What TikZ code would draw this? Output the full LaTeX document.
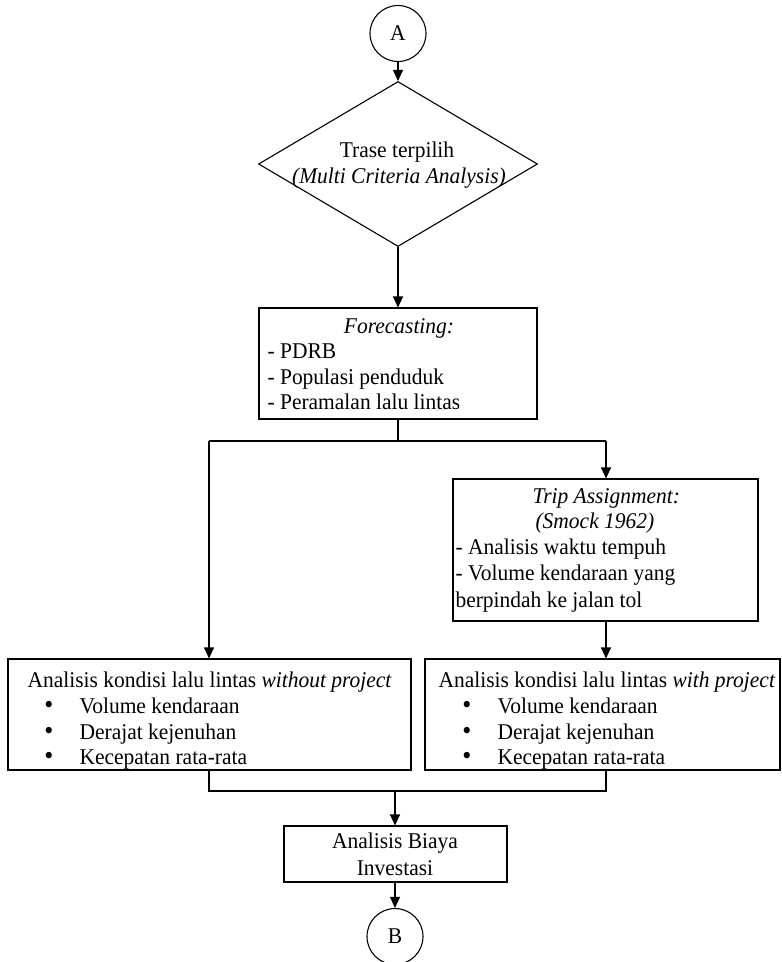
\documentclass[tikz,border=0pt]{standalone}
\usepackage{fontspec}
\setmainfont{Liberation Serif}[FakeStretch=0.955]
\usetikzlibrary{shapes.geometric,arrows.meta}
\begin{document}
\begin{tikzpicture}[x=1pt,y=-1pt,
  line width=1.1pt,
  every node/.style={font=\fontsize{22.5}{26}\selectfont, inner sep=0pt},
  conn/.style={circle,draw,minimum size=56pt},
  boxn/.style={draw,rectangle},
  txt/.style={anchor=base west},
  ctxt/.style={anchor=base},
  bul/.style={anchor=base,font=\fontsize{27}{26}\selectfont},
  arr/.style={-{Triangle[width=10pt,length=11pt]}}]
\useasboundingbox (0,0) rectangle (782,962);
% nodes
\node[conn] (A) at (398,33.5) {A};
\node[diamond,draw,minimum width=279pt,minimum height=165pt] (dia) at (398,164) {};
\node[ctxt] (dt1) at (397,157) {Trase terpilih};
\node[ctxt] (dt2) at (399,183) {\textit{(Multi Criteria Analysis)}};

\node[boxn,minimum width=278pt,minimum height=111pt] (fc) at (398,363.5) {};
\node[ctxt] (fc1) at (399,333) {\textit{Forecasting:}};
\node[txt] (fc2) at (267,358) {- PDRB};
\node[txt] (fc3) at (267,384) {- Populasi penduduk};
\node[txt] (fc4) at (267,409) {- Peramalan lalu lintas};

\node[boxn,minimum width=305pt,minimum height=142pt] (trip) at (605.5,550) {};
\node[txt] (tr1) at (532,503) {\textit{Trip Assignment:}};
\node[txt] (tr2) at (535,528) {\textit{(Smock 1962)}};
\node[txt] (tr3) at (455,554) {- Analisis waktu tempuh};
\node[txt] (tr4) at (455,580) {- Volume kendaraan yang};
\node[txt] (tr5) at (455,607) {berpindah ke jalan tol};

\node[boxn,minimum width=403pt,minimum height=111pt] (wo) at (209.5,714.5) {};
\node[txt] (wo1) at (27,687) {Analisis kondisi lalu lintas \textit{without project}};
\node[bul] (wob1) at (49,713) {•};
\node[bul] (wob2) at (49,739) {•};
\node[bul] (wob3) at (49,764) {•};
\node[txt] (wo2) at (79,713) {Volume kendaraan};
\node[txt] (wo3) at (79,739) {Derajat kejenuhan};
\node[txt] (wo4) at (79,764) {Kecepatan rata-rata};

\node[boxn,minimum width=355pt,minimum height=111pt] (wi) at (602.5,714.5) {};
\node[txt] (wi1) at (438,687) {Analisis kondisi lalu lintas \textit{with project}};
\node[bul] (wib1) at (467,713) {•};
\node[bul] (wib2) at (467,739) {•};
\node[bul] (wib3) at (467,764) {•};
\node[txt] (wi2) at (497,713) {Volume kendaraan};
\node[txt] (wi3) at (497,739) {Derajat kejenuhan};
\node[txt] (wi4) at (497,764) {Kecepatan rata-rata};

\node[boxn,minimum width=223pt,minimum height=56pt] (bi) at (395.5,854) {};
\node[ctxt] (bi1) at (395,848) {Analisis Biaya};
\node[ctxt] (bi2) at (395,875) {Investasi};

\node[conn] (B) at (395,936.5) {B};

% junction coordinates
\coordinate (j1) at (398,441);
\coordinate (jl) at (209,441);
\coordinate (jr) at (606,441);
\coordinate (m1) at (209,791);
\coordinate (m2) at (606,791);
\coordinate (m0) at (395,791);

% connectors
\draw[arr] (A) -- (dia);
\draw[arr] (dia.south) -- (fc.north);
\draw (fc.south) -- (j1);
\draw (jl) -- (jr);
\draw[arr] (jl) -- (jl |- wo.north);
\draw[arr] (jr) -- (jr |- trip.north);
\draw[arr] (trip.south -| jr) -- (jr |- wi.north);
\draw (m1 |- wo.south) -- (m1) -- (m2) -- (m2 |- wi.south);
\draw[arr] (m0) -- (m0 |- bi.north);
\draw[arr] (bi.south -| B) -- (B.north);
\end{tikzpicture}
\end{document}
